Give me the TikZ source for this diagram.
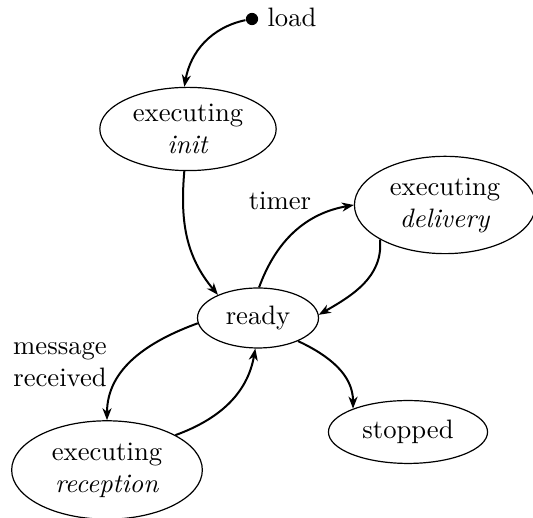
\documentclass[tikz,border=0pt]{standalone}
\usetikzlibrary{shapes.geometric,arrows.meta}

\tikzset{
  statenode/.style={draw, ellipse, line width=0.45pt, align=center},
  initdot/.style={circle, fill=black, inner sep=0pt, minimum size=4.6pt},
  plain/.style={inner sep=0pt, align=center},
  trans/.style={line width=0.75pt, -{Stealth[length=4.5pt, width=3.4pt, inset=1.4pt]}},
}

\begin{document}
\begin{tikzpicture}[x=0.37523pt, y=0.37523pt]
  \useasboundingbox (0,0) rectangle (533,518);

  % states
  \node[initdot] (start) at (252,499) {};
  \node[plain] (loadtxt) at (292,501) {load};
  \node[statenode, inner xsep=2.7pt, inner ysep=1.7pt] (init) at (188,389) {executing\\\textit{init}};
  \node[statenode, minimum width=45.4pt, minimum height=22.5pt] (ready) at (258,200) {ready};
  \node[statenode, inner ysep=2.6pt] (delivery) at (445,313) {executing\\\textit{delivery}};
  \node[statenode, inner xsep=4.6pt, inner ysep=2.8pt] (reception) at (107,48) {executing\\\textit{reception}};
  \node[statenode, minimum width=59.7pt, minimum height=23.6pt] (stopped) at (408,86) {stopped};

  % transition labels
  \node[plain] (timertxt) at (280,317) {timer};
  \node[plain] (msgtxt) at (60,153) {message\\received};

  % transitions
  \draw[trans] (start.190) to[out=192, in=80] (init.95);
  \draw[trans] (init.265) to[out=-95, in=130] (ready.150);
  \draw[trans] (ready.88) to[out=70, in=190] (delivery.180);
  \draw[trans] (delivery.208) to[out=-85, in=30] (ready.3);
  \draw[trans] (ready.185) to[out=200, in=90] (reception.90);
  \draw[trans] (reception.27) to[out=20, in=260] (ready.265);
  \draw[trans] (ready.330) to[out=-25, in=90] (stopped.157);
\end{tikzpicture}
\end{document}
